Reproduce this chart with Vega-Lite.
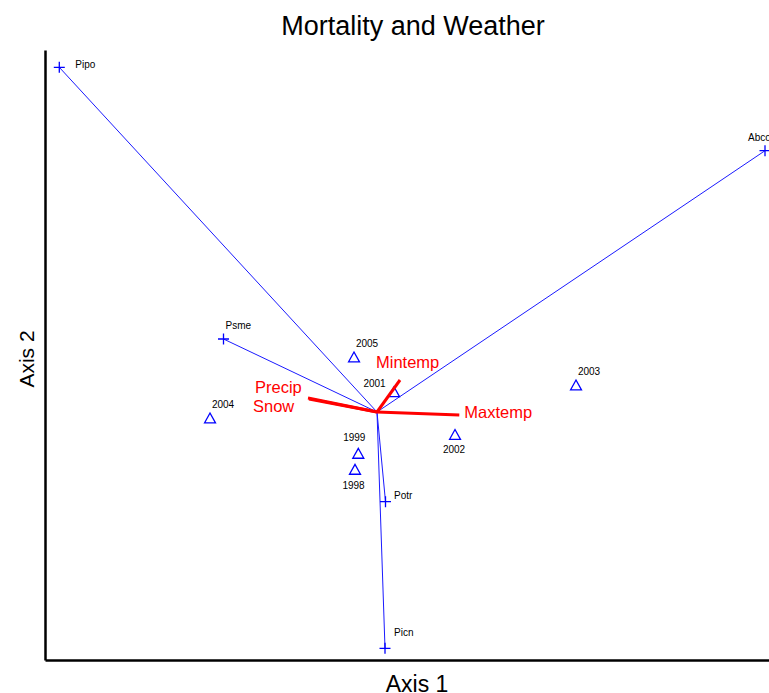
{
  "$schema": "https://vega.github.io/schema/vega-lite/v6.json",
  "width": 724,
  "height": 610,
  "autosize": {"type": "none"},
  "padding": {"left": 45, "top": 50, "right": 0, "bottom": 33},
  "background": "white",
  "title": {"text": "Mortality and Weather", "fontSize": 27, "font": "Liberation Sans", "fontWeight": "normal", "color": "black", "anchor": "middle", "offset": 16, "baseline": "alphabetic", "dx": 6, "dy": 28},
  "config": {
    "view": {"stroke": null},
    "font": "Liberation Sans",
    "axisX": {"domain": true, "domainColor": "black", "domainWidth": 2.5, "ticks": false, "labels": false, "grid": false, "titleFontSize": 23, "titleFont": "Liberation Sans", "titleFontWeight": "normal", "titleColor": "black", "titleBaseline": "alphabetic", "titleY": 31, "titleX": 371.5, "titleAlign": "center"},
    "axisY": {"domain": true, "domainColor": "black", "domainWidth": 2.5, "ticks": false, "labels": false, "grid": false, "titleFontSize": 21, "titleFont": "Liberation Sans", "titleFontWeight": "normal", "titleColor": "black", "titleBaseline": "alphabetic", "titleX": -11.7, "titleY": 308.5, "titleAngle": 270, "titleAlign": "center"}
  },
  "datasets": {
    "species": [
      {"name": "Pipo", "a1": -3.177, "a2": 3.447},
      {"name": "Abco", "a1": 3.88, "a2": 2.613},
      {"name": "Psme", "a1": -1.535, "a2": 0.73},
      {"name": "Potr", "a1": 0.085, "a2": -0.897},
      {"name": "Picn", "a1": 0.08, "a2": -2.363}
    ],
    "years": [
      {"year": "1998", "a1": -0.22, "a2": -0.573},
      {"year": "1999", "a1": -0.187, "a2": -0.413},
      {"year": "2001", "a1": 0.17, "a2": 0.203},
      {"year": "2002", "a1": 0.78, "a2": -0.225},
      {"year": "2003", "a1": 1.99, "a2": 0.27},
      {"year": "2004", "a1": -1.67, "a2": -0.06},
      {"year": "2005", "a1": -0.23, "a2": 0.55}
    ],
    "env": [
      {"var": "Mintemp", "a1": 0.23, "a2": 0.32},
      {"var": "Maxtemp", "a1": 0.823, "a2": -0.03},
      {"var": "Precip", "a1": -0.69, "a2": 0.14},
      {"var": "Snow", "a1": -0.68, "a2": 0.13}
    ]
  },
  "layer": [
    {
      "data": {"name": "species"},
      "mark": {"type": "rule", "color": "#1a1aff", "strokeWidth": 1},
      "encoding": {
        "x": {"field": "a1", "type": "quantitative", "title": "Axis 1", "scale": {"domain": [-3.32, 3.92], "nice": false, "zero": false}},
        "y": {"field": "a2", "type": "quantitative", "title": "Axis 2", "scale": {"domain": [-2.48, 3.62], "nice": false, "zero": false}},
        "x2": {"datum": 0},
        "y2": {"datum": 0}
      }
    },
    {
      "mark": {"type": "rule", "color": "black", "strokeWidth": 2.5},
      "encoding": {"y": {"datum": 3.62, "type": "quantitative"}}
    },
    {
      "data": {"name": "years"},
      "mark": {"type": "point", "shape": "M-1,0.9L0,-0.9L1,0.9Z", "size": 121, "filled": false, "color": "#0000ff", "strokeWidth": 1.3, "opacity": 1},
      "encoding": {
        "x": {"field": "a1", "type": "quantitative", "title": "Axis 1"},
        "y": {"field": "a2", "type": "quantitative", "title": "Axis 2"}
      }
    },
    {
      "data": {"name": "species"},
      "mark": {"type": "point", "shape": "M-1,0H1M0,-1V1", "size": 121, "filled": false, "color": "#0000ff", "strokeWidth": 1.3, "opacity": 1},
      "encoding": {
        "x": {"field": "a1", "type": "quantitative", "title": "Axis 1"},
        "y": {"field": "a2", "type": "quantitative", "title": "Axis 2"}
      }
    },
    {
      "data": {"name": "env"},
      "mark": {"type": "rule", "color": "#ff0000", "strokeWidth": 3},
      "encoding": {
        "x": {"field": "a1", "type": "quantitative", "title": "Axis 1"},
        "y": {"field": "a2", "type": "quantitative", "title": "Axis 2"},
        "x2": {"datum": 0},
        "y2": {"datum": 0}
      }
    },
    {
      "data": {"name": "species"},
      "transform": [{"filter": "datum.name === 'Pipo'"}],
      "mark": {"type": "text", "align": "left", "baseline": "middle", "dx": 16, "dy": -2, "fontSize": 10, "color": "black"},
      "encoding": {"x": {"field": "a1", "type": "quantitative", "title": "Axis 1"}, "y": {"field": "a2", "type": "quantitative", "title": "Axis 2"}, "text": {"field": "name"}}
    },
    {
      "data": {"name": "species"},
      "transform": [{"filter": "datum.name === 'Abco'"}],
      "mark": {"type": "text", "align": "left", "baseline": "middle", "dx": -17, "dy": -13, "fontSize": 10, "color": "black", "clip": true},
      "encoding": {"x": {"field": "a1", "type": "quantitative", "title": "Axis 1"}, "y": {"field": "a2", "type": "quantitative", "title": "Axis 2"}, "text": {"field": "name"}}
    },
    {
      "data": {"name": "species"},
      "transform": [{"filter": "datum.name === 'Psme'"}],
      "mark": {"type": "text", "align": "left", "baseline": "middle", "dx": 2, "dy": -13, "fontSize": 10, "color": "black"},
      "encoding": {"x": {"field": "a1", "type": "quantitative", "title": "Axis 1"}, "y": {"field": "a2", "type": "quantitative", "title": "Axis 2"}, "text": {"field": "name"}}
    },
    {
      "data": {"name": "species"},
      "transform": [{"filter": "datum.name === 'Potr'"}],
      "mark": {"type": "text", "align": "left", "baseline": "middle", "dx": 8.5, "dy": -6, "fontSize": 10, "color": "black"},
      "encoding": {"x": {"field": "a1", "type": "quantitative", "title": "Axis 1"}, "y": {"field": "a2", "type": "quantitative", "title": "Axis 2"}, "text": {"field": "name"}}
    },
    {
      "data": {"name": "species"},
      "transform": [{"filter": "datum.name === 'Picn'"}],
      "mark": {"type": "text", "align": "left", "baseline": "middle", "dx": 9, "dy": -15, "fontSize": 10, "color": "black"},
      "encoding": {"x": {"field": "a1", "type": "quantitative", "title": "Axis 1"}, "y": {"field": "a2", "type": "quantitative", "title": "Axis 2"}, "text": {"field": "name"}}
    },
    {
      "data": {"name": "years"},
      "transform": [{"filter": {"field": "year", "oneOf": ["2003", "2004", "2005"]}}],
      "mark": {"type": "text", "align": "center", "baseline": "middle", "dx": 13, "dy": -13, "fontSize": 10, "color": "black"},
      "encoding": {"x": {"field": "a1", "type": "quantitative", "title": "Axis 1"}, "y": {"field": "a2", "type": "quantitative", "title": "Axis 2"}, "text": {"field": "year"}}
    },
    {
      "data": {"name": "years"},
      "transform": [{"filter": "datum.year === '2001'"}],
      "mark": {"type": "text", "align": "center", "baseline": "middle", "dx": -19.5, "dy": -7.5, "fontSize": 10, "color": "black"},
      "encoding": {"x": {"field": "a1", "type": "quantitative", "title": "Axis 1"}, "y": {"field": "a2", "type": "quantitative", "title": "Axis 2"}, "text": {"field": "year"}}
    },
    {
      "data": {"name": "years"},
      "transform": [{"filter": "datum.year === '2002'"}],
      "mark": {"type": "text", "align": "center", "baseline": "middle", "dx": -1, "dy": 15, "fontSize": 10, "color": "black"},
      "encoding": {"x": {"field": "a1", "type": "quantitative", "title": "Axis 1"}, "y": {"field": "a2", "type": "quantitative", "title": "Axis 2"}, "text": {"field": "year"}}
    },
    {
      "data": {"name": "years"},
      "transform": [{"filter": "datum.year === '1999'"}],
      "mark": {"type": "text", "align": "center", "baseline": "middle", "dx": -4, "dy": -15, "fontSize": 10, "color": "black"},
      "encoding": {"x": {"field": "a1", "type": "quantitative", "title": "Axis 1"}, "y": {"field": "a2", "type": "quantitative", "title": "Axis 2"}, "text": {"field": "year"}}
    },
    {
      "data": {"name": "years"},
      "transform": [{"filter": "datum.year === '1998'"}],
      "mark": {"type": "text", "align": "center", "baseline": "middle", "dx": -1.5, "dy": 17, "fontSize": 10, "color": "black"},
      "encoding": {"x": {"field": "a1", "type": "quantitative", "title": "Axis 1"}, "y": {"field": "a2", "type": "quantitative", "title": "Axis 2"}, "text": {"field": "year"}}
    },
    {
      "data": {"name": "env"},
      "transform": [{"filter": "datum.var === 'Mintemp'"}],
      "mark": {"type": "text", "align": "left", "baseline": "middle", "dx": -24, "dy": -17, "fontSize": 16.5, "color": "#ff0000"},
      "encoding": {"x": {"field": "a1", "type": "quantitative", "title": "Axis 1"}, "y": {"field": "a2", "type": "quantitative", "title": "Axis 2"}, "text": {"field": "var"}}
    },
    {
      "data": {"name": "env"},
      "transform": [{"filter": "datum.var === 'Maxtemp'"}],
      "mark": {"type": "text", "align": "left", "baseline": "middle", "dx": 5, "dy": -2, "fontSize": 16.5, "color": "#ff0000"},
      "encoding": {"x": {"field": "a1", "type": "quantitative", "title": "Axis 1"}, "y": {"field": "a2", "type": "quantitative", "title": "Axis 2"}, "text": {"field": "var"}}
    },
    {
      "data": {"name": "env"},
      "transform": [{"filter": "datum.var === 'Precip'"}],
      "mark": {"type": "text", "align": "left", "baseline": "middle", "dx": -53, "dy": -10.5, "fontSize": 16.5, "color": "#ff0000"},
      "encoding": {"x": {"field": "a1", "type": "quantitative", "title": "Axis 1"}, "y": {"field": "a2", "type": "quantitative", "title": "Axis 2"}, "text": {"field": "var"}}
    },
    {
      "data": {"name": "env"},
      "transform": [{"filter": "datum.var === 'Snow'"}],
      "mark": {"type": "text", "align": "left", "baseline": "middle", "dx": -56, "dy": 7.5, "fontSize": 16.5, "color": "#ff0000"},
      "encoding": {"x": {"field": "a1", "type": "quantitative", "title": "Axis 1"}, "y": {"field": "a2", "type": "quantitative", "title": "Axis 2"}, "text": {"field": "var"}}
    }
  ]
}
